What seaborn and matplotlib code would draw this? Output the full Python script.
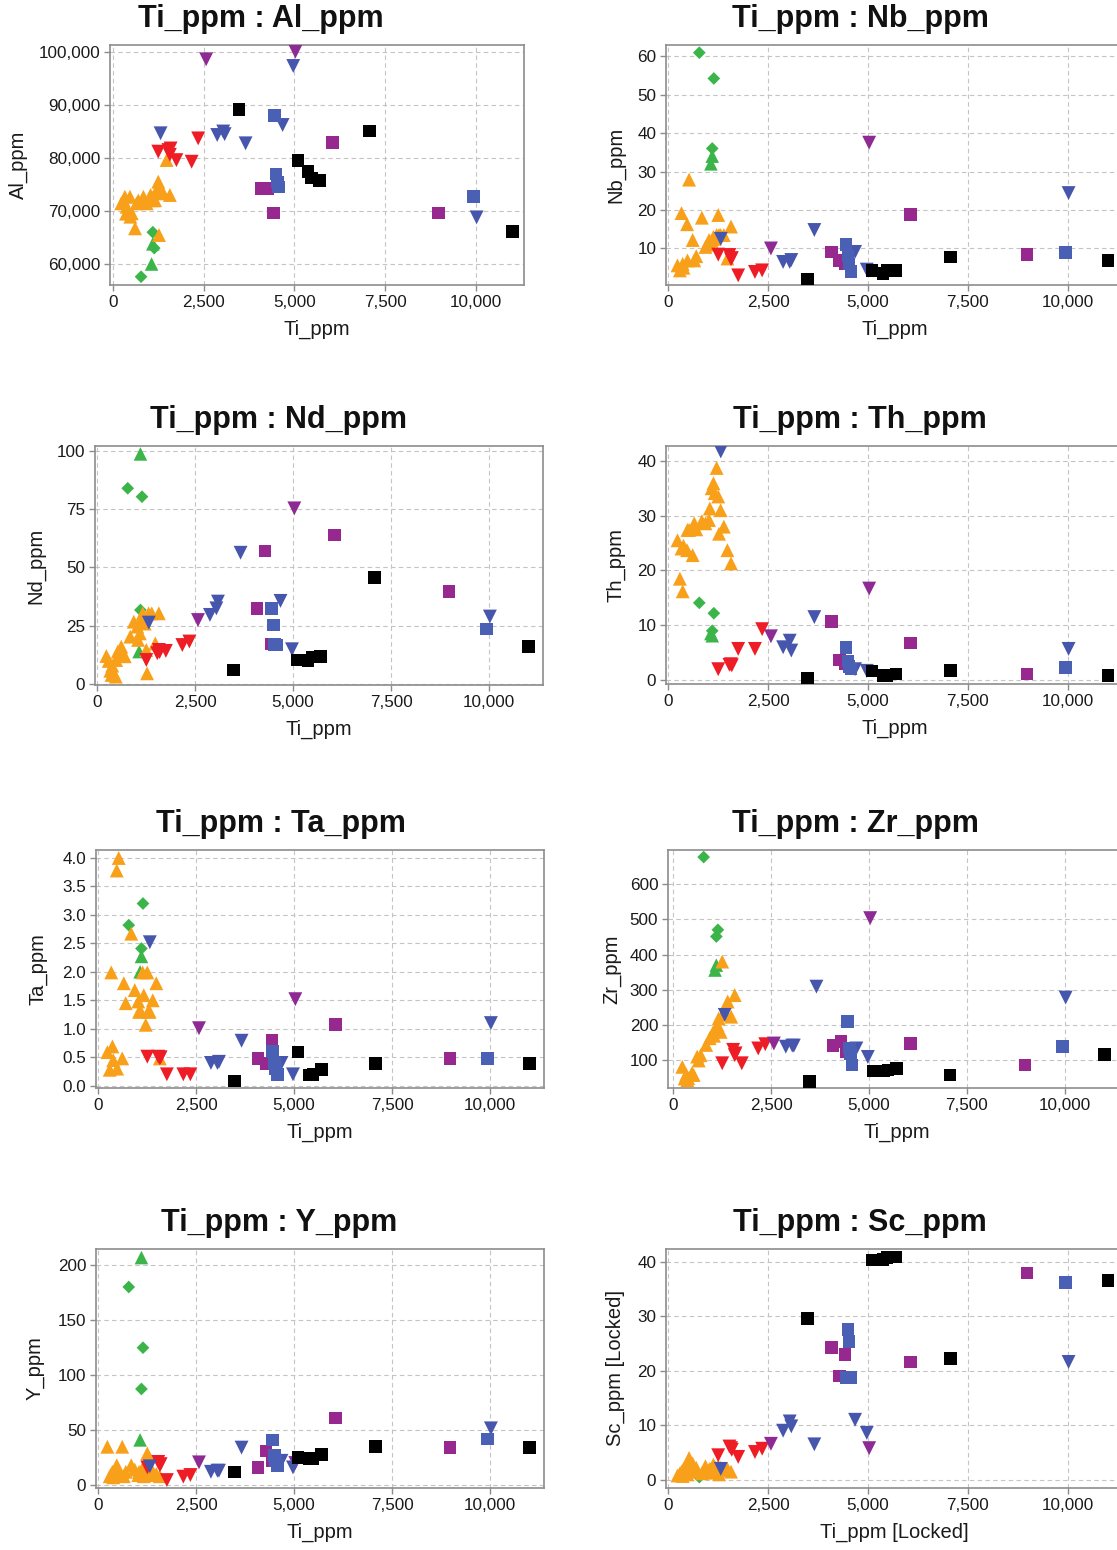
import matplotlib
matplotlib.use("Agg")
import matplotlib.pyplot as plt
import numpy as np
import pandas as pd
import seaborn as sns
from matplotlib.ticker import FuncFormatter, FixedLocator

sns.set_theme(style="white")
plt.rcParams['font.family'] = ['Liberation Sans', 'DejaVu Sans']

# ---------------- data (one entry per sample) ----------------
group = (["green_d"] * 3 + ["green_t"] * 2 + ["orange"] * 25 + ["red"] * 7 +
         ["purple_t"] * 2 + ["blue_t"] * 8 + ["purple_s"] * 5 + ["blue_s"] * 5 +
         ["black"] * 7)

ti = ([776, 1140, 1100] + [1100, 1066] +
      [230, 290, 330, 360, 380, 470, 480, 520, 610, 650, 700, 840, 930, 1020, 1040,
       1085, 1130, 1160, 1210, 1250, 1270, 1310, 1390, 1480, 1570] +
      [1250, 1530, 1570, 1590, 1750, 2170, 2350] +
      [2570, 5030] +
      [1314, 2875, 3040, 3080, 3657, 4677, 4970, 10024] +
      [4080, 4280, 4430, 6060, 8980] +
      [4450, 4500, 4530, 4570, 9940] +
      [3480, 5100, 5380, 5480, 5700, 7070, 11010])

al = ([57600, 63000, 66000] + [63800, 60000] +
      [71450, 72000, 72700, 69500, 70820, 72700, 68930, 69570, 66730, 71450, 72000,
       72700, 71450, 72700, 73000, 72500, 72000, 72080, 74000, 75530, 65470, 73500,
       73330, 79620, 73020] +
      [81200, 81500, 80600, 81800, 79600, 79300, 83700] +
      [98620, 100060] +
      [84660, 84340, 85000, 84500, 82770, 86230, 97360, 68800] +
      [74300, 74200, 69600, 82900, 69600] +
      [88000, 77000, 75500, 74500, 72700] +
      [89200, 79500, 77400, 76200, 75800, 85100, 66100])

nb = ([60.9, 54.2, 36.0] + [34.0, 32.0] +
      [5.6, 4.3, 19.2, 6.0, 5.0, 16.3, 6.9, 27.9, 12.2, 6.9, 8.0, 18.0, 10.4, 12.2,
       11.0, 12.0, 13.0, 12.5, 13.5, 18.7, 13.5, 13.5, 13.5, 7.4, 15.7] +
      [8.4, 8.3, 7.2, 7.5, 3.0, 3.9, 4.3] +
      [10.0, 37.5] +
      [12.5, 6.5, 6.5, 7.0, 14.8, 9.1, 4.5, 24.4] +
      [9.1, 6.9, 6.0, 18.9, 8.5] +
      [11.0, 8.0, 6.0, 4.0, 8.9] +
      [2.0, 4.3, 3.5, 4.2, 4.3, 7.8, 6.9])

nd = ([83.9, 80.3, 31.8] + [98.6, 14.0] +
      [12.1, 10.0, 5.8, 4.0, 8.0, 3.3, 10.4, 14.0, 16.1, 13.3, 12.0, 20.4, 26.8, 24.7,
       19.0, 21.8, 28.0, 30.4, 26.0, 14.7, 4.7, 30.4, 30.4, 17.5, 30.4] +
      [10.4, 13.3, 14.7, 13.8, 14.3, 16.8, 18.3] +
      [27.5, 75.3] +
      [26.4, 29.7, 32.5, 35.4, 56.3, 35.7, 15.0, 29.0] +
      [32.5, 57.1, 17.3, 63.9, 39.7] +
      [32.5, 25.4, 17.0, 16.8, 23.7] +
      [6.1, 10.4, 10.1, 11.6, 11.8, 45.6, 16.1])

th = ([14.1, 12.2, 9.0] + [8.1, 8.5] +
      [25.5, 18.5, 24.0, 16.2, 24.5, 23.7, 27.4, 27.4, 22.8, 28.6, 27.5, 29.0, 28.6,
       29.2, 31.3, 35.0, 35.9, 34.1, 38.7, 33.5, 26.7, 31.0, 28.0, 23.7, 21.3] +
      [2.0, 2.8, 2.9, 2.7, 5.7, 5.7, 9.3] +
      [8.0, 16.7] +
      [41.7, 6.0, 7.2, 5.4, 11.5, 2.0, 1.7, 5.7] +
      [10.7, 3.7, 3.0, 6.8, 1.1] +
      [6.0, 3.5, 2.5, 2.0, 2.3] +
      [0.4, 1.7, 0.8, 0.9, 1.1, 1.8, 0.8])

ta = ([2.82, 3.20, 2.41] + [2.27, 2.00] +
      [0.59, 0.28, 1.99, 0.69, 0.45, 3.78, 0.30, 4.00, 0.48, 1.80, 1.45, 2.67, 1.68,
       1.48, 1.30, 1.30, 1.99, 1.59, 1.07, 1.99, 1.30, 1.30, 1.50, 1.80, 0.48] +
      [0.51, 0.51, 0.48, 0.50, 0.20, 0.20, 0.20] +
      [1.01, 1.52] +
      [2.52, 0.40, 0.40, 0.42, 0.79, 0.40, 0.20, 1.10] +
      [0.48, 0.39, 0.79, 1.08, 0.48] +
      [0.60, 0.40, 0.30, 0.20, 0.48] +
      [0.08, 0.59, 0.19, 0.20, 0.28, 0.39, 0.39])

zr = ([676, 470, 451] + [370, 356] +
      [82, 49, 60, 44, 50, 59, 65, 59, 111, 100, 115, 144, 163, 181, 170, 190, 200,
       219, 181, 380, 230, 240, 267, 224, 285] +
      [92, 130, 115, 120, 92, 134, 146] +
      [148, 503] +
      [229, 139, 142, 142, 309, 134, 110, 278] +
      [142, 153, 125, 148, 87] +
      [210, 135, 120, 87, 139] +
      [40, 70, 70, 73, 77, 59, 117])

yy = ([180, 124.8, 87.3] + [206.7, 41] +
      [34.8, 8, 10, 12, 7, 18, 10, 12, 34.8, 8, 12, 18, 14, 9, 12, 10, 15, 8, 20,
       28.8, 12, 9, 12, 10, 8] +
      [16, 21, 18, 19, 4.5, 7.6, 9.1] +
      [20.6, 20] +
      [17, 12, 13, 13, 34, 22, 16, 51.5] +
      [16, 31, 22, 61, 34] +
      [41, 27, 22, 18, 42] +
      [12, 25, 24, 24, 28, 35, 34])

sc = ([0.5, 2.5, 1.8] + [2.0, 1.5] +
      [0.8, 1.2, 1.5, 0.7, 2.0, 2.5, 1.0, 4.0, 3.0, 1.5, 2.2, 1.2, 2.5, 1.8, 2.0,
       1.3, 2.8, 1.5, 2.0, 2.5, 1.0, 2.2, 1.8, 2.0, 1.5] +
      [4.5, 6.1, 5.8, 5.5, 4.2, 5.1, 5.7] +
      [6.6, 5.8] +
      [2.0, 9.0, 10.7, 9.8, 6.5, 11.0, 8.6, 21.6] +
      [24.3, 19.0, 23.0, 21.6, 37.9] +
      [18.8, 27.5, 25.3, 18.8, 36.2] +
      [29.6, 40.3, 40.4, 40.7, 40.8, 22.2, 36.5])

df = pd.DataFrame({"group": group, "Ti_ppm": ti, "Al_ppm": al, "Nb_ppm": nb,
                   "Nd_ppm": nd, "Th_ppm": th, "Ta_ppm": ta, "Zr_ppm": zr,
                   "Y_ppm": yy, "Sc_ppm": sc})

# ---------------- styles ----------------
palette = {"green_d": "#3bb54a", "green_t": "#3bb54a", "orange": "#f9a01b",
           "red": "#ee1c25", "purple_t": "#8e2a93", "blue_t": "#4656ad",
           "purple_s": "#96288f", "blue_s": "#4a60b4", "black": "#000000"}
markers = {"green_d": "D", "green_t": "^", "orange": "^", "red": "v",
           "purple_t": "v", "blue_t": "v", "purple_s": "s", "blue_s": "s",
           "black": "s"}
sizes = {"green_d": 42, "green_t": 95, "orange": 100, "red": 100,
         "purple_t": 100, "blue_t": 100, "purple_s": 82, "blue_s": 82,
         "black": 82}

W, H = 1117, 1550
fig = plt.figure(figsize=(W / 100, H / 100), dpi=100)
fig.patch.set_facecolor("white")

comma = FuncFormatter(lambda v, p: f"{v:,.0f}")
onedec = FuncFormatter(lambda v, p: f"{v:.1f}")

# col, ylabel, xlabel, (left, top, right, bottom) px, xlim, ylim, yticks, yfmt,
# title centre px, ylabel x px (right edge)
panels = [
    ("Al_ppm", "Al_ppm", "Ti_ppm", (110, 45, 524, 285), (-80, 11330), (56040, 101320),
     [60000, 70000, 80000, 90000, 100000], comma, (261, 19), 28),
    ("Nb_ppm", "Nb_ppm", "Ti_ppm", (666, 45, 1123, 285), (-58, 11387), (0.5, 62.9),
     [10, 20, 30, 40, 50, 60], comma, (860, 19), 625),
    ("Nd_ppm", "Nd_ppm", "Ti_ppm", (95, 446, 543, 685), (-60, 11380), (-0.3, 102),
     [0, 25, 50, 75, 100], comma, (279, 420), 45),
    ("Th_ppm", "Th_ppm", "Ti_ppm", (666, 446, 1123, 684), (-58, 11387), (-0.7, 42.7),
     [0, 10, 20, 30, 40], comma, (860, 420), 625),
    ("Ta_ppm", "Ta_ppm", "Ti_ppm", (96, 850, 544, 1088), (-60, 11380), (-0.04, 4.14),
     [0, 0.5, 1, 1.5, 2, 2.5, 3, 3.5, 4], onedec, (281, 824), 47),
    ("Zr_ppm", "Zr_ppm", "Ti_ppm", (668, 850, 1125, 1088), (-135, 11540), (22, 696),
     [100, 200, 300, 400, 500, 600], comma, (855, 824), 621),
    ("Y_ppm", "Y_ppm", "Ti_ppm", (96, 1249, 544, 1488), (-60, 11380), (-2.7, 214.5),
     [0, 50, 100, 150, 200], comma, (279, 1223), 45),
    ("Sc_ppm", "Sc_ppm [Locked]", "Ti_ppm [Locked]", (666, 1249, 1123, 1488),
     (-58, 11387), (-1.5, 42.3), [0, 10, 20, 30, 40], comma, (860, 1223), 625),
]

for col, ylab, xlab, (l, t, r, b), xlim, ylim, yt, yfmt, (tx, ty), ylx in panels:
    ax = fig.add_axes([l / W, 1 - b / H, (r - l) / W, (b - t) / H])
    ax.set_facecolor("white")
    sns.scatterplot(data=df, x="Ti_ppm", y=col, hue="group", style="group",
                    size="group", palette=palette, markers=markers, sizes=sizes,
                    linewidth=0, alpha=1, legend=False, ax=ax, zorder=3)
    ax.set_xlim(*xlim)
    ax.set_ylim(*ylim)
    ax.xaxis.set_major_locator(FixedLocator([0, 2500, 5000, 7500, 10000]))
    ax.xaxis.set_major_formatter(comma)
    ax.yaxis.set_major_locator(FixedLocator(yt))
    ax.yaxis.set_major_formatter(yfmt)
    ax.grid(True, linestyle=(0, (4, 3)), color="#c4c4c4", linewidth=0.8, zorder=0)
    ax.set_axisbelow(True)
    for s in ax.spines.values():
        s.set_color("#8c8c8c")
        s.set_linewidth(1.2)
    ax.tick_params(axis="both", which="major", bottom=True, left=True,
                   direction="out", length=4, width=1, color="#8c8c8c",
                   labelsize=12.3, labelcolor="#1a1a1a", pad=3)
    ax.set_xlabel(xlab, fontsize=14.5, color="#1a1a1a")
    ax.set_ylabel(ylab, fontsize=14.5, color="#1a1a1a")
    ax.xaxis.set_label_coords(0.5, -35 / (b - t))
    ax.yaxis.set_label_coords((ylx - l) / (r - l), 0.5)
    fig.text(tx / W, 1 - ty / H, f"Ti_ppm : {col}", ha="center", va="center",
             fontsize=22, fontweight="bold", color="#111111")

fig.savefig("out.png", dpi=100, facecolor="white")
